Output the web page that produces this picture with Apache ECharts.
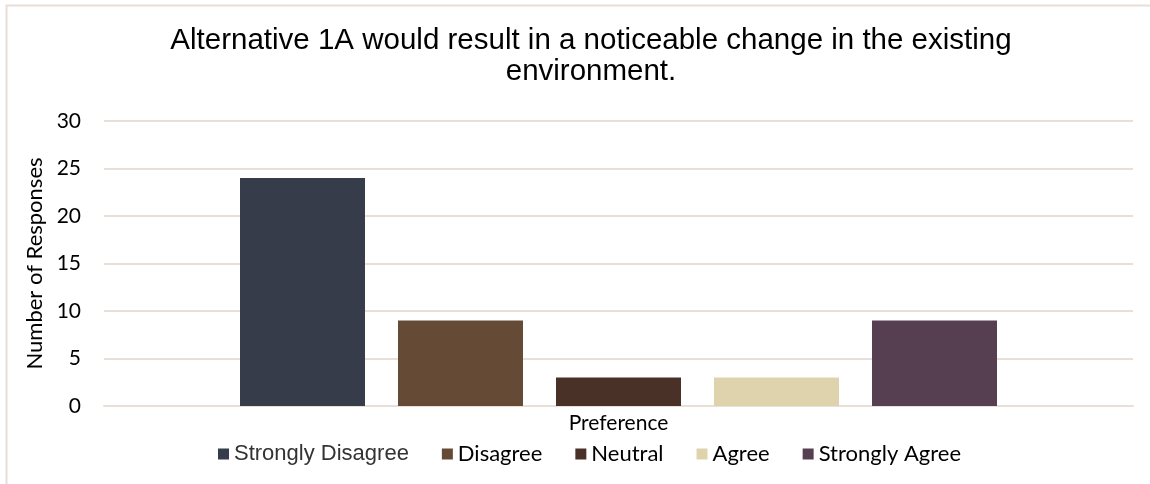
<!DOCTYPE html>
<html>
<head>
<meta charset="utf-8">
<script src="https://cdn.jsdelivr.net/npm/echarts@6/dist/echarts.min.js"></script>
<style>html,body{margin:0;padding:0;background:#fff;}#c{width:1150px;height:484px;}</style>
</head>
<body>
<div id="c"></div>
<script>
var categories = ['Preference'];
var seriesNames = ['Strongly Disagree', 'Disagree', 'Neutral', 'Agree', 'Strongly Agree'];
var seriesValues = [[24], [9], [3], [3], [9]];
var seriesColors = ['#363c49', '#654a35', '#4a3128', '#dfd3ae', '#563f51'];
var yTicks = {min: 0, max: 30, interval: 5};

var chart = echarts.init(document.getElementById('c'));
var series = seriesNames.map(function (n, i) {
  return {
    name: n, type: 'bar', data: seriesValues[i],
    barWidth: 125, barGap: '26.4%',
    itemStyle: {color: seriesColors[i]}
  };
});
chart.setOption({
  animation: false,
  backgroundColor: '#fff',
  graphic: [{
    type: 'polyline', silent: true,
    shape: {points: [[6.5, 490], [6.5, 5.5], [1160, 5.5]]},
    style: {stroke: '#eaded8', lineWidth: 2, fill: null}
  }],
  title: {
    text: 'Alternative 1A would result in a noticeable change in the existing\nenvironment.',
    left: 586, top: 20, textAlign: 'center',
    textStyle: {fontFamily: 'Liberation Sans', fontSize: 29.5, fontWeight: 'normal', color: '#000', lineHeight: 31, align: 'center'}
  },
  legend: {
    left: 213, top: 438, itemWidth: 11, itemHeight: 11, itemGap: 33,
    icon: 'rect',
    textStyle: {fontFamily: 'Lato', fontSize: 22, color: '#000'},
    data: seriesNames.map(function (n, i) {
      return i === 0 ? {name: n, textStyle: {fontFamily: 'Liberation Sans', fontSize: 22, color: '#333'}} : {name: n};
    })
  },
  grid: {left: 104, right: 17, top: 121, bottom: 78, containLabel: false},
  xAxis: {
    type: 'category', data: categories,
    axisLine: {show: true, lineStyle: {color: '#eaded8', width: 2}},
    axisTick: {show: false}, axisLabel: {show: false},
    name: 'Preference', nameLocation: 'middle', nameGap: 7,
    nameTextStyle: {fontFamily: 'Lato', fontSize: 21, color: '#000'}
  },
  yAxis: {
    type: 'value', min: yTicks.min, max: yTicks.max, interval: yTicks.interval,
    axisLine: {show: false}, axisTick: {show: false},
    splitLine: {lineStyle: {color: '#eaded8', width: 2}},
    axisLabel: {fontFamily: 'Lato', fontSize: 21, color: '#000', margin: 23},
    name: 'Number of Responses', nameLocation: 'middle', nameGap: 57,
    nameTextStyle: {fontFamily: 'Lato', fontSize: 22, color: '#000'}
  },
  series: series
});
</script>
</body>
</html>
